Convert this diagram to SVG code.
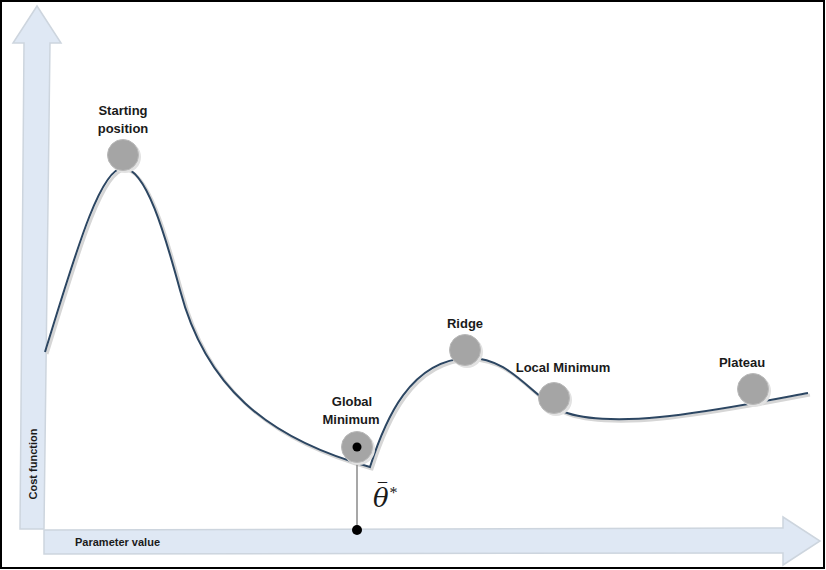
<svg xmlns="http://www.w3.org/2000/svg" width="826" height="570" viewBox="0 0 826 570">
<style>
.lbl{font-family:"Liberation Sans",Arial,sans-serif;font-weight:bold;font-size:13px;fill:#1a1a1a;text-anchor:middle}
.ax{font-family:"Liberation Sans",Arial,sans-serif;font-weight:bold;font-size:11px;fill:#1a1a1a}
.arrow{fill:#dfe8f4;stroke:#cdd5de;stroke-width:1.5}
.ball{fill:#a5a5a5;stroke:#b8b8b8;stroke-width:1}
.ballsh{fill:#e2e2e2}
.curve{fill:none;stroke:#2c4662;stroke-width:2}
.curvesh{fill:none;stroke:#d6d6d6;stroke-width:3}
</style>
<rect x="0" y="0" width="826" height="570" fill="#ffffff"/>
<rect x="1" y="1" width="823" height="567" fill="none" stroke="#000" stroke-width="2"/>

<g id="axes">
<polygon class="arrow" points="37,6 61,43 50,43 44,529 20,529 24,43 13,43"/>
<polygon class="arrow" points="44,530 783,528 783,517 820,541 783,565 783,553 44,554"/>
<text class="ax" transform="translate(37,464) rotate(-90)" text-anchor="middle">Cost function</text>
<text class="ax" x="75" y="546">Parameter value</text>
</g>

<g id="connectors">
<path class="curvesh" d="M47,354 C77,257 102,170 125,170 C148,170 167,237 182,292 C207,387 267,440 372,469 C387,422 412,362 470,360 C512,359 532,397 562,412 C582,422 622,423 662,419 C712,414 762,404 810,395"/>
<path class="curve" d="M45,352 C75,255 100,168 123,168 C146,168 165,235 180,290 C205,385 265,438 370,467 C385,420 410,360 468,358 C510,357 530,395 560,410 C580,420 620,421 660,417 C710,412 760,402 808,393"/>
<line x1="357" y1="447" x2="357" y2="530" stroke="#8a8a8a" stroke-width="1.5"/>
<circle cx="357" cy="530" r="5" fill="#000"/>
</g>

<g id="starting">
<circle class="ballsh" cx="125" cy="157" r="16"/>
<circle class="ball" cx="123" cy="155" r="15.5"/>
<text class="lbl" x="123" y="115">Starting</text>
<text class="lbl" x="123" y="133">position</text>
</g>

<g id="global-minimum">
<circle class="ballsh" cx="359" cy="449" r="16"/>
<circle class="ball" cx="357" cy="447" r="15.5"/>
<circle cx="357" cy="447" r="4.5" fill="#000"/>
<text class="lbl" x="352" y="406">Global</text>
<text class="lbl" x="351" y="424">Minimum</text>
</g>

<g id="ridge">
<circle class="ballsh" cx="467" cy="352" r="16"/>
<circle class="ball" cx="465" cy="350" r="15.5"/>
<text class="lbl" x="465" y="328">Ridge</text>
</g>

<g id="local-minimum">
<circle class="ballsh" cx="556" cy="400" r="16"/>
<circle class="ball" cx="554" cy="398" r="15.5"/>
<text class="lbl" x="563" y="372">Local Minimum</text>
</g>

<g id="plateau">
<circle class="ballsh" cx="755" cy="391" r="16"/>
<circle class="ball" cx="753" cy="389" r="15.5"/>
<text class="lbl" x="742" y="367">Plateau</text>
</g>

<g id="theta">
<text x="373" y="507" font-family="'DejaVu Serif',serif" font-style="italic" font-size="26" fill="#1a1a1a">θ<tspan font-family="'Liberation Serif',serif" font-size="16" dy="-9">*</tspan></text>
<text x="378" y="496" font-family="'Liberation Serif',serif" font-size="18" fill="#1a1a1a">¯</text>
</g>
</svg>
